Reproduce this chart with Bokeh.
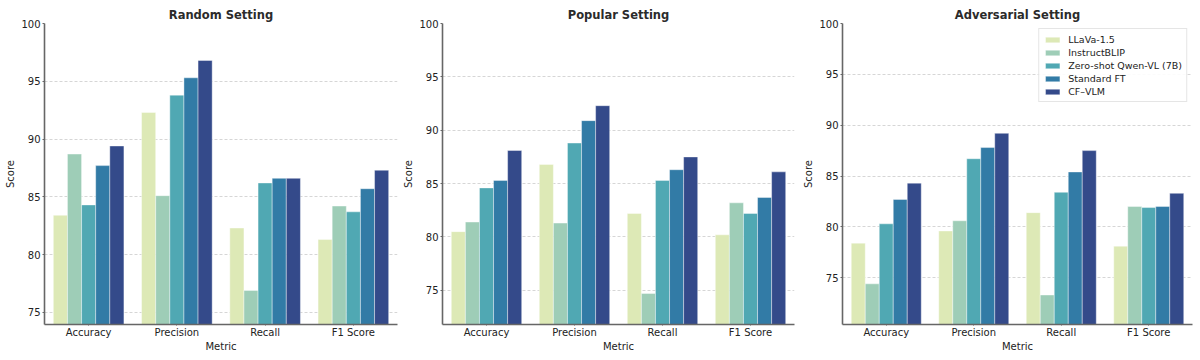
from bokeh.plotting import figure
from bokeh.layouts import row
from bokeh.models import FixedTicker, Range1d, Legend, LegendItem
from bokeh.embed import file_html
from bokeh.resources import INLINE

metrics = ["Accuracy", "Precision", "Recall", "F1 Score"]
models = ["LLaVa-1.5", "InstructBLIP", "Zero-shot Qwen-VL (7B)", "Standard FT", "CF\u2013VLM"]
colors = ["#dde9b6", "#9ecdb7", "#50a8b3", "#327ba6", "#344a8a"]

random_llava = [83.4, 92.3, 82.3, 81.3]
random_instructblip = [88.7, 85.1, 76.9, 84.2]
random_qwen = [84.3, 93.8, 86.2, 83.7]
random_stdft = [87.7, 95.3, 86.6, 85.7]
random_cfvlm = [89.4, 96.8, 86.6, 87.3]

popular_llava = [80.5, 86.8, 82.2, 80.2]
popular_instructblip = [81.4, 81.3, 74.7, 83.2]
popular_qwen = [84.6, 88.8, 85.3, 82.2]
popular_stdft = [85.3, 90.9, 86.3, 83.7]
popular_cfvlm = [88.1, 92.3, 87.5, 86.1]

adv_llava = [78.4, 79.6, 81.4, 78.1]
adv_instructblip = [74.4, 80.6, 73.3, 82.0]
adv_qwen = [80.3, 86.7, 83.4, 81.9]
adv_stdft = [82.7, 87.8, 85.4, 82.0]
adv_cfvlm = [84.3, 89.2, 87.5, 83.3]

y_ticks = [75, 80, 85, 90, 95, 100]

panels = [
    ("Random Setting", [random_llava, random_instructblip, random_qwen, random_stdft, random_cfvlm], 73.95),
    ("Popular Setting", [popular_llava, popular_instructblip, popular_qwen, popular_stdft, popular_cfvlm], 71.8),
    ("Adversarial Setting", [adv_llava, adv_instructblip, adv_qwen, adv_stdft, adv_cfvlm], 70.4),
]
borders_left = [44, 41, 38]
borders_right = [3, 6, 8]

FONT = "DejaVu Sans"
bar_w = 0.16
figs = []
for k, (title, series, ymin) in enumerate(panels):
    p = figure(width=400, height=360, output_backend="svg", toolbar_location=None,
               x_range=Range1d(-0.5, 3.5), y_range=Range1d(ymin, 100),
               min_border_left=borders_left[k], min_border_right=borders_right[k],
               min_border_top=23, min_border_bottom=36)
    p.title.text = title
    p.title.align = "center"
    p.title.text_font = FONT
    p.title.text_font_size = "11.5px"
    p.title.text_font_style = "bold"
    p.title.text_color = "#2b2b2b"
    p.title.standoff = 4
    p.outline_line_color = None
    p.background_fill_color = "white"

    renderers = []
    for j, vals in enumerate(series):
        xs = [i + (j - 2) * bar_w for i in range(len(metrics))]
        r = p.vbar(x=xs, top=vals, bottom=ymin, width=bar_w, fill_color=colors[j],
                   line_color="white", line_alpha=0.5, line_width=0.8)
        renderers.append(r)

    p.xgrid.grid_line_color = None
    p.ygrid.grid_line_color = "#cccccc"
    p.ygrid.grid_line_dash = "3 2"
    p.ygrid.grid_line_width = 0.8
    p.ygrid.ticker = FixedTicker(ticks=y_ticks)

    p.xaxis.ticker = FixedTicker(ticks=[0, 1, 2, 3])
    p.xaxis.major_label_overrides = {i: m for i, m in enumerate(metrics)}
    p.yaxis.ticker = FixedTicker(ticks=y_ticks)
    p.xaxis.minor_tick_line_color = None
    p.yaxis.minor_tick_line_color = None
    for ax in (p.xaxis, p.yaxis):
        ax.axis_line_color = "#666666"
        ax.axis_line_width = 1.6
        ax.major_tick_line_color = "#666666"
        ax.major_tick_in = 0
        ax.major_tick_out = 2
        ax.major_label_text_font = FONT
        ax.major_label_text_font_size = "10px"
        ax.major_label_text_color = "#222222"
        ax.axis_label_text_font = FONT
        ax.axis_label_text_font_size = "10px"
        ax.axis_label_text_font_style = "normal"
        ax.axis_label_text_color = "#222222"
        ax.major_label_standoff = 2
        ax.axis_label_standoff = 2
    p.xaxis.major_tick_out = 1
    p.xaxis.major_label_standoff = 1
    p.xaxis.axis_label_standoff = 0
    p.xaxis.axis_label = "Metric"
    p.yaxis.axis_label = "Score"

    if k == 2:
        legend = Legend(items=[LegendItem(label=m, renderers=[renderers[j]]) for j, m in enumerate(models)],
                        location="top_right")
        legend.label_text_font = FONT
        legend.label_text_font_size = "9.5px"
        legend.label_text_color = "#222222"
        legend.glyph_width = 18
        legend.glyph_height = 7
        legend.label_height = 12
        legend.label_standoff = 7
        legend.spacing = 1
        legend.padding = 4
        legend.margin = 5
        legend.border_line_color = "#cccccc"
        legend.background_fill_alpha = 0.9
        p.add_layout(legend)
    figs.append(p)

layout = row(*figs)
open("out.html", "w").write(file_html(layout, INLINE))
